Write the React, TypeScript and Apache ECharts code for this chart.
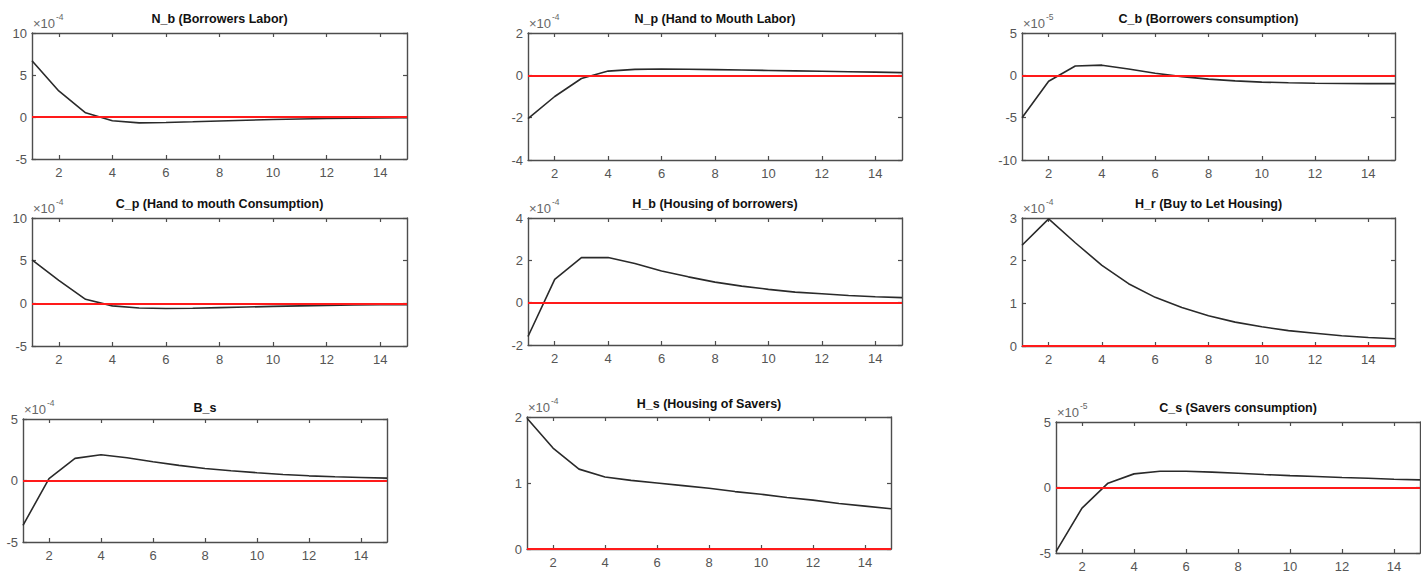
import React, { useEffect, useRef } from "react";
import * as echarts from "echarts";

// Horizon (periods after the shock)
const periods = [1, 2, 3, 4, 5, 6, 7, 8, 9, 10, 11, 12, 13, 14, 15];
const xTickValues = [2, 4, 6, 8, 10, 12, 14];

// Impulse responses, in units of the power of ten printed above each panel
const nbBorrowersLabor = [6.7, 3.1, 0.5, -0.45, -0.7, -0.65, -0.57, -0.47, -0.38, -0.3, -0.23, -0.17, -0.13, -0.1, -0.08];
const npHandToMouthLabor = [-2.05, -1.0, -0.15, 0.2, 0.28, 0.3, 0.29, 0.27, 0.25, 0.23, 0.21, 0.19, 0.17, 0.15, 0.13];
const cbBorrowersConsumption = [-5.0, -0.7, 1.1, 1.2, 0.75, 0.25, -0.15, -0.45, -0.65, -0.8, -0.88, -0.93, -0.96, -0.98, -0.98];
const cpHandToMouthConsumption = [5.1, 2.7, 0.47, -0.3, -0.55, -0.6, -0.57, -0.5, -0.43, -0.36, -0.3, -0.25, -0.2, -0.17, -0.15];
const hbHousingBorrowers = [-1.6, 1.1, 2.13, 2.13, 1.85, 1.5, 1.22, 0.97, 0.78, 0.63, 0.5, 0.42, 0.34, 0.28, 0.24];
const hrBuyToLetHousing = [2.36, 2.98, 2.42, 1.89, 1.46, 1.14, 0.9, 0.71, 0.56, 0.45, 0.36, 0.3, 0.24, 0.2, 0.17];
const bsSavers = [-3.65, 0.16, 1.8, 2.1, 1.85, 1.53, 1.23, 0.98, 0.79, 0.63, 0.49, 0.38, 0.3, 0.25, 0.19];
const hsHousingSavers = [1.98, 1.53, 1.21, 1.09, 1.04, 1.0, 0.96, 0.92, 0.87, 0.83, 0.78, 0.74, 0.69, 0.65, 0.61];
const csSaversConsumption = [-4.9, -1.57, 0.33, 1.04, 1.24, 1.24, 1.17, 1.09, 0.99, 0.91, 0.84, 0.76, 0.71, 0.63, 0.58];

const titles = [
  "N_b (Borrowers Labor)",
  "N_p (Hand to Mouth Labor)",
  "C_b (Borrowers consumption)",
  "C_p (Hand to mouth Consumption)",
  "H_b (Housing of borrowers)",
  "H_r (Buy to Let Housing)",
  "B_s",
  "H_s (Housing of Savers)",
  "C_s (Savers consumption)",
];
const seriesValues = [
  nbBorrowersLabor,
  npHandToMouthLabor,
  cbBorrowersConsumption,
  cpHandToMouthConsumption,
  hbHousingBorrowers,
  hrBuyToLetHousing,
  bsSavers,
  hsHousingSavers,
  csSaversConsumption,
];
const exponents = [-4, -4, -5, -4, -4, -4, -4, -4, -5];
// [min, max, step] of each y axis
const yRanges = [
  [-5, 10, 5],
  [-4, 2, 2],
  [-10, 5, 5],
  [-5, 10, 5],
  [-2, 4, 2],
  [0, 3, 1],
  [-5, 5, 5],
  [0, 2, 1],
  [-5, 5, 5],
];

// Plot boxes in pixels: left, top, width, height
const boxes = [
  [32, 33, 375, 126],
  [528, 33, 374, 127],
  [1022, 33, 373, 127],
  [32, 218, 375, 128],
  [528, 218, 374, 127],
  [1022, 218, 373, 128],
  [23, 419, 364, 123],
  [527, 417, 364, 132],
  [1056, 422, 364, 131],
];

const FRAME = "#4d4d4d";
const LABEL = "#555555";
const FONT = "'Liberation Sans', Arial, Helvetica, sans-serif";

function buildOption() {
  const grid: any[] = [];
  const xAxis: any[] = [];
  const yAxis: any[] = [];
  const series: any[] = [];
  const graphic: any[] = [];

  boxes.forEach(([left, top, width, height], i) => {
    const [yMin, yMax, yStep] = yRanges[i];
    grid.push({ left, top, width, height, containLabel: false });

    const tickStyle = { show: true, inside: true, length: 4, lineStyle: { color: FRAME, width: 1.2 } };
    const lineStyle = { show: true, onZero: false, lineStyle: { color: FRAME, width: 1.4 } };

    xAxis.push({
      type: "value",
      gridIndex: i,
      position: "bottom",
      min: 1,
      max: 15,
      axisLine: lineStyle,
      axisTick: { ...tickStyle, customValues: xTickValues },
      axisLabel: {
        customValues: xTickValues,
        color: LABEL,
        fontSize: 13,
        fontFamily: FONT,
        margin: 7,
      },
      splitLine: { show: false },
    });
    xAxis.push({
      type: "value",
      gridIndex: i,
      position: "top",
      min: 1,
      max: 15,
      axisLine: lineStyle,
      axisTick: { ...tickStyle, customValues: xTickValues },
      axisLabel: { show: false },
      splitLine: { show: false },
    });
    yAxis.push({
      type: "value",
      gridIndex: i,
      position: "left",
      min: yMin,
      max: yMax,
      interval: yStep,
      axisLine: lineStyle,
      axisTick: tickStyle,
      axisLabel: { color: LABEL, fontSize: 13, fontFamily: FONT, margin: 5 },
      splitLine: { show: false },
    });
    yAxis.push({
      type: "value",
      gridIndex: i,
      position: "right",
      min: yMin,
      max: yMax,
      interval: yStep,
      axisLine: lineStyle,
      axisTick: tickStyle,
      axisLabel: { show: false },
      splitLine: { show: false },
    });

    series.push({
      type: "line",
      xAxisIndex: 2 * i,
      yAxisIndex: 2 * i,
      data: periods.map((p, k) => [p, seriesValues[i][k]]),
      showSymbol: false,
      symbol: "none",
      lineStyle: { color: "#2a2a2a", width: 1.6 },
      markLine: {
        silent: true,
        symbol: "none",
        label: { show: false },
        lineStyle: { color: "#ff1a1a", width: 1.8, type: "solid" },
        data: [{ yAxis: 0 }],
      },
      z: 3,
    });

    const titleY = i < 3 ? 19 : i < 6 ? 204 : i === 7 ? 404 : 408;
    graphic.push({
      type: "text",
      x: left + width / 2,
      y: titleY,
      style: {
        text: titles[i],
        fontSize: 12.5,
        fontWeight: "bold",
        fontFamily: FONT,
        fill: "#111111",
        textAlign: "center",
        textVerticalAlign: "middle",
      },
    });
    graphic.push({
      type: "text",
      x: left + 1,
      y: top - 10,
      style: {
        text: "×10",
        fontSize: 13,
        fontFamily: FONT,
        fill: "#666666",
        textAlign: "left",
        textVerticalAlign: "middle",
      },
    });
    graphic.push({
      type: "text",
      x: left + 24,
      y: top - 16,
      style: {
        text: String(exponents[i]),
        fontSize: 8.5,
        fontFamily: FONT,
        fill: "#666666",
        textAlign: "left",
        textVerticalAlign: "middle",
      },
    });
  });

  return {
    animation: false,
    backgroundColor: "#ffffff",
    grid,
    xAxis,
    yAxis,
    series,
    graphic,
  };
}

export default function App() {
  const ref = useRef<HTMLDivElement>(null);

  useEffect(() => {
    if (!ref.current) return;
    const chart = echarts.init(ref.current, undefined, { renderer: "svg" });
    chart.setOption(buildOption());
    return () => chart.dispose();
  }, []);

  return (
    <div
      ref={ref}
      style={{ position: "fixed", left: 0, top: 0, width: 1421, height: 573, background: "#ffffff" }}
    />
  );
}
